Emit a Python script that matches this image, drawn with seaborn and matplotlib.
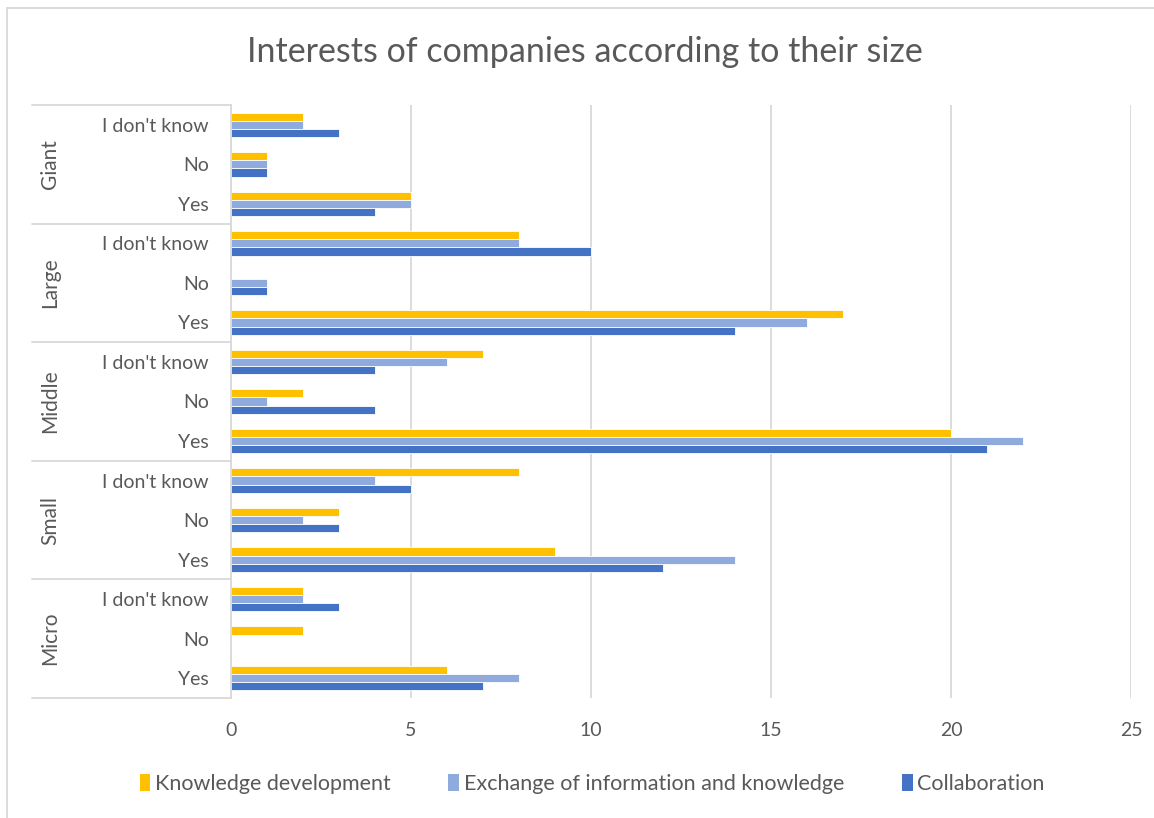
import matplotlib
matplotlib.use("Agg")
import matplotlib.pyplot as plt
import matplotlib.transforms as mtransforms
from matplotlib.lines import Line2D
import seaborn as sns
import pandas as pd

# ---- data ----
groups = ["Giant", "Large", "Middle", "Small", "Micro"]
answers = ["I don't know", "No", "Yes"]
series_names = ["Knowledge development", "Exchange of information and knowledge", "Collaboration"]
knowledge = [2, 1, 5, 8, 0, 17, 7, 2, 20, 8, 3, 9, 2, 2, 6]
exchange = [2, 1, 5, 8, 1, 16, 6, 1, 22, 4, 2, 14, 2, 0, 8]
collaboration = [3, 1, 4, 10, 1, 14, 4, 4, 21, 5, 3, 12, 3, 0, 7]
x_ticks = [0, 5, 10, 15, 20, 25]
colors = ["#FFC000", "#8FAADC", "#4472C4"]

title = "Interests of companies according to their size"

rows = [f"{g}|{a}" for g in groups for a in answers]
records = []
for name, vals in zip(series_names, [knowledge, exchange, collaboration]):
    for r, v in zip(rows, vals):
        records.append({"row": r, "value": v, "series": name})
df = pd.DataFrame(records)

sns.set_theme(style="white")
plt.rcParams["font.family"] = ["Lato", "DejaVu Sans"]
txt = "#595959"
grid_c = "#D9D9D9"

fig = plt.figure(figsize=(11.54, 8.18), dpi=100)
W, H = 1154, 818
ax = fig.add_axes([231 / W, 1 - 698 / H, 900 / W, 593 / H])

sns.barplot(data=df, y="row", x="value", hue="series", order=rows,
            hue_order=series_names, palette=colors, orient="h", saturation=1,
            width=0.62, linewidth=0.6, edgecolor="white", ax=ax, legend=False)

ax.set_xlim(0, 25)
ax.set_xticks(x_ticks)
ax.set_xticklabels([str(t) for t in x_ticks], color=txt, fontsize=14)
ax.tick_params(axis="x", length=0, pad=17)
ax.set_yticks(range(len(rows)))
ax.set_yticklabels([r.split("|")[1] for r in rows], color=txt, fontsize=14)
ax.tick_params(axis="y", length=0, pad=16)
ax.set_xlabel("")
ax.set_ylabel("")
ax.set_axisbelow(True)
ax.grid(axis="x", color=grid_c, linewidth=1.3)
ax.grid(axis="y", visible=False)
for s in ["top", "right", "bottom"]:
    ax.spines[s].set_visible(False)
ax.spines["left"].set_color(grid_c)
ax.spines["left"].set_linewidth(1.3)

# group separators and labels
trans = mtransforms.blended_transform_factory(ax.transAxes, ax.transData)
x_left = (32 - 231) / 900
for i in range(len(groups) + 1):
    yb = i * 3 - 0.5
    ax.add_line(Line2D([x_left, 0], [yb, yb], transform=trans, color=grid_c,
                       linewidth=1.3, clip_on=False))
for i, g in enumerate(groups):
    ax.text((50 - 231) / 900, i * 3 + 1, g, transform=trans, rotation=90,
            ha="center", va="center", color=txt, fontsize=15)

fig.text(585 / W, 1 - 52 / H, title, ha="center", va="center", color=txt, fontsize=24.5)

handles = [plt.Rectangle((0, 0), 1, 1, facecolor=c, edgecolor="none") for c in colors]
fig.legend(handles, series_names, loc="center", bbox_to_anchor=(592 / W, 1 - 784 / H),
           ncol=3, frameon=False, fontsize=15.5, handlelength=0.5, handleheight=0.8,
           handletextpad=0.2, columnspacing=2.7, labelcolor=txt)

# outer chart border
fig.add_artist(Line2D([7 / W, 1], [1 - 8 / H, 1 - 8 / H], transform=fig.transFigure,
                      color=grid_c, linewidth=1.3))
fig.add_artist(Line2D([7 / W, 7 / W], [0, 1 - 8 / H], transform=fig.transFigure,
                      color=grid_c, linewidth=1.3))

fig.savefig("out.png", dpi=100)
